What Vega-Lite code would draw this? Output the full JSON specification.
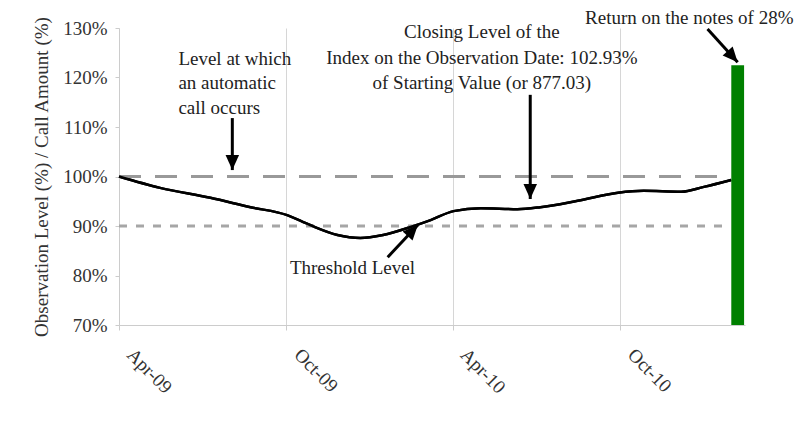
{
  "$schema": "https://vega.github.io/schema/vega-lite/v6.json",
  "width": 626,
  "height": 297,
  "autosize": {"type": "none"},
  "padding": {"left": 119, "top": 28, "right": 54, "bottom": 105},
  "background": "white",
  "config": {"font": "Liberation Serif", "view": {"stroke": null}},
  "datasets": {
    "curve": [
      {"date": "2009-04-01", "level": 100.0},
      {"date": "2009-05-16", "level": 97.7},
      {"date": "2009-07-10", "level": 95.7},
      {"date": "2009-08-23", "level": 93.8},
      {"date": "2009-10-02", "level": 92.2},
      {"date": "2009-10-27", "level": 90.2},
      {"date": "2009-11-26", "level": 88.2},
      {"date": "2009-12-21", "level": 87.6},
      {"date": "2010-01-15", "level": 88.2},
      {"date": "2010-02-14", "level": 89.8},
      {"date": "2010-03-08", "level": 91.2},
      {"date": "2010-04-02", "level": 93.0},
      {"date": "2010-05-02", "level": 93.6},
      {"date": "2010-06-11", "level": 93.4},
      {"date": "2010-07-06", "level": 93.8},
      {"date": "2010-08-16", "level": 95.1},
      {"date": "2010-09-29", "level": 96.7},
      {"date": "2010-10-27", "level": 97.1},
      {"date": "2010-12-07", "level": 96.9},
      {"date": "2011-01-01", "level": 97.9},
      {"date": "2011-01-31", "level": 99.3}
    ],
    "bar": [
      {"start": "2011-01-31", "end": "2011-02-14", "top": 122.5, "base": 70}
    ],
    "callLine": [
      {"start": "2009-04-01", "end": "2011-01-29", "level": 100}
    ],
    "thresholdLine": [
      {"start": "2009-04-01", "end": "2011-01-29", "level": 90}
    ],
    "arrows": [
      {"id": "call", "fromDate": "2009-08-03", "fromLevel": 111.8, "toDate": "2009-08-03", "toLevel": 101.3},
      {"id": "closing", "fromDate": "2010-06-25", "fromLevel": 116.5, "toDate": "2010-06-25", "toLevel": 95.45},
      {"id": "return", "fromDate": "2011-01-05", "fromLevel": 129.8, "toDate": "2011-02-07", "toLevel": 123.1},
      {"id": "threshold", "fromDate": "2010-01-20", "fromLevel": 83.7, "toDate": "2010-02-22", "toLevel": 90.2}
    ],
    "notesLeft": [
      {"date": "2009-06-05", "level": 123.7, "text": "Level at which"},
      {"date": "2009-06-05", "level": 118.9, "text": "an automatic"},
      {"date": "2009-06-05", "level": 113.8, "text": "call occurs"},
      {"date": "2009-10-05", "level": 81.5, "text": "Threshold Level"}
    ],
    "notesCenter": [
      {"date": "2010-05-03", "level": 129.2, "text": "Closing Level of the"},
      {"date": "2010-05-03", "level": 123.9, "text": "Index on the Observation Date: 102.93%"},
      {"date": "2010-05-03", "level": 118.9, "text": "of Starting Value (or 877.03)"},
      {"date": "2010-12-16", "level": 132.0, "text": "Return on the notes of 28%"}
    ]
  },
  "layer": [
    {
      "data": {"name": "curve"},
      "mark": {"type": "line", "color": "black", "strokeWidth": 2.5, "interpolate": "monotone"},
      "encoding": {
        "x": {
          "field": "date", "type": "temporal",
          "scale": {"type": "utc", "domain": [{"year": 2009, "month": 4, "date": 1, "utc": true}, {"year": 2011, "month": 2, "date": 15, "utc": true}]},
          "axis": {
            "values": [
              {"year": 2009, "month": 4, "date": 1, "utc": true},
              {"year": 2009, "month": 10, "date": 1, "utc": true},
              {"year": 2010, "month": 4, "date": 1, "utc": true},
              {"year": 2010, "month": 10, "date": 1, "utc": true}
            ],
            "format": "%b-%y",
            "title": null,
            "labelAngle": 45,
            "labelAlign": "left",
            "labelBaseline": "top",
            "labelFontSize": 19,
            "labelColor": "#333333",
            "labelPadding": 15,
            "labelOffset": 17,
            "labelFlush": false,
            "labelOverlap": false,
            "tickSize": 5,
            "tickColor": "#cccccc",
            "domainColor": "#cccccc",
            "grid": true,
            "gridColor": "#d6d6d6"
          }
        },
        "y": {
          "field": "level", "type": "quantitative",
          "scale": {"domain": [70, 130], "nice": false, "zero": false},
          "axis": {
            "values": [70, 80, 90, 100, 110, 120, 130],
            "labelExpr": "datum.value + '%'",
            "labelFontSize": 19,
            "labelColor": "#333333",
            "labelPadding": 8,
            "tickSize": 4,
            "tickColor": "#cccccc",
            "domainColor": "#cccccc",
            "grid": false,
            "title": "Observation Level (%) / Call Amount (%)",
            "titleFontSize": 19,
            "titleFontWeight": "normal",
            "titleColor": "#333333",
            "titlePadding": 11
          }
        }
      }
    },
    {
      "data": {"name": "callLine"},
      "mark": {"type": "rule", "color": "#999999", "strokeWidth": 3, "strokeDash": [22, 14]},
      "encoding": {
        "x": {"field": "start", "type": "temporal"},
        "x2": {"field": "end"},
        "y": {"field": "level", "type": "quantitative"}
      }
    },
    {
      "data": {"name": "thresholdLine"},
      "mark": {"type": "rule", "color": "#a6a6a6", "strokeWidth": 3, "strokeDash": [8, 9]},
      "encoding": {
        "x": {"field": "start", "type": "temporal"},
        "x2": {"field": "end"},
        "y": {"field": "level", "type": "quantitative"}
      }
    },
    {
      "data": {"name": "curve"},
      "mark": {"type": "line", "color": "black", "strokeWidth": 2.5, "interpolate": "monotone"},
      "encoding": {
        "x": {"field": "date", "type": "temporal"},
        "y": {"field": "level", "type": "quantitative"}
      }
    },
    {
      "data": {"name": "bar"},
      "mark": {"type": "rect", "color": "#008000"},
      "encoding": {
        "x": {"field": "start", "type": "temporal"},
        "x2": {"field": "end"},
        "y": {"field": "top", "type": "quantitative"},
        "y2": {"field": "base"}
      }
    },
    {
      "data": {"name": "arrows"},
      "mark": {"type": "rule", "color": "black", "strokeWidth": 3},
      "encoding": {
        "x": {"field": "fromDate", "type": "temporal"},
        "y": {"field": "fromLevel", "type": "quantitative"},
        "x2": {"field": "toDate"},
        "y2": {"field": "toLevel"}
      }
    },
    {
      "data": {"name": "arrows"},
      "transform": [{"filter": "datum.id === 'call' || datum.id === 'closing'"}],
      "mark": {"type": "point", "shape": "M0,0L-0.45,1L0.45,1Z", "filled": true, "color": "black", "opacity": 1, "size": 900, "angle": 180},
      "encoding": {
        "x": {"field": "toDate", "type": "temporal"},
        "y": {"field": "toLevel", "type": "quantitative"}
      }
    },
    {
      "data": {"name": "arrows"},
      "transform": [{"filter": "datum.id === 'return'"}],
      "mark": {"type": "point", "shape": "M0,0L-0.45,1L0.45,1Z", "filled": true, "color": "black", "opacity": 1, "size": 900, "angle": 138},
      "encoding": {
        "x": {"field": "toDate", "type": "temporal"},
        "y": {"field": "toLevel", "type": "quantitative"}
      }
    },
    {
      "data": {"name": "arrows"},
      "transform": [{"filter": "datum.id === 'threshold'"}],
      "mark": {"type": "point", "shape": "M0,0L-0.45,1L0.45,1Z", "filled": true, "color": "black", "opacity": 1, "size": 900, "angle": 43},
      "encoding": {
        "x": {"field": "toDate", "type": "temporal"},
        "y": {"field": "toLevel", "type": "quantitative"}
      }
    },
    {
      "data": {"name": "notesLeft"},
      "mark": {"type": "text", "align": "left", "baseline": "middle", "fontSize": 19, "color": "#222222"},
      "encoding": {
        "x": {"field": "date", "type": "temporal"},
        "y": {"field": "level", "type": "quantitative"},
        "text": {"field": "text"}
      }
    },
    {
      "data": {"name": "notesCenter"},
      "mark": {"type": "text", "align": "center", "baseline": "middle", "fontSize": 19, "color": "#222222"},
      "encoding": {
        "x": {"field": "date", "type": "temporal"},
        "y": {"field": "level", "type": "quantitative"},
        "text": {"field": "text"}
      }
    }
  ]
}
